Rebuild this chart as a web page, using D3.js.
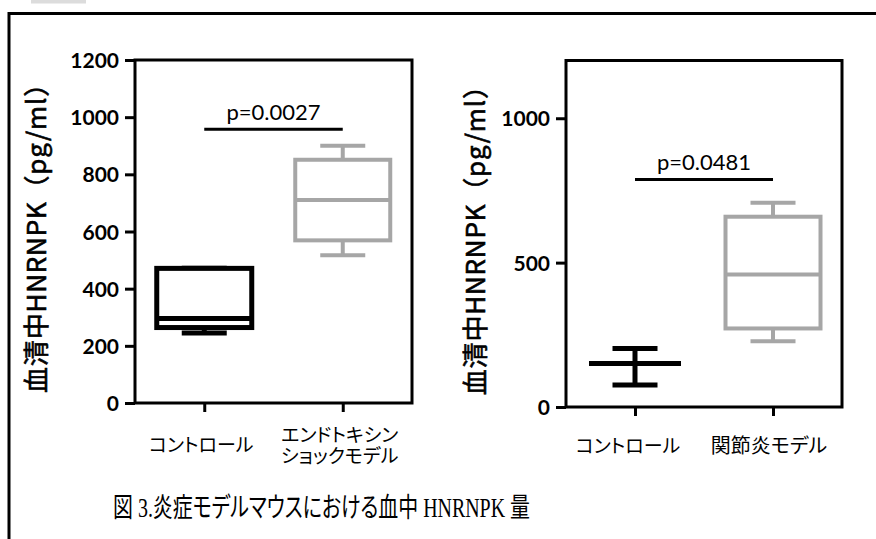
<!DOCTYPE html>
<html>
<head>
<meta charset="utf-8">
<script src="https://cdn.jsdelivr.net/npm/d3@7"></script>
<style>
  html, body { margin: 0; padding: 0; background: #fff; }
  svg { display: block; }
  .kana { font-feature-settings: "palt"; }
</style>
</head>
<body>
<svg id="chart" width="876" height="539"></svg>
<script>
// ---- Left panel: endotoxin shock model (box plots) ----
const leftCategories = ["コントロール", "エンドトキシン\nショックモデル"];
const leftMin    = [245, 517];
const leftQ1     = [264, 569];
const leftMedian = [296, 710];
const leftQ3     = [471, 851];
const leftMax    = [471, 900];
const leftTicks  = [0, 200, 400, 600, 800, 1000, 1200];
const leftPValue = "p=0.0027";
const leftPLevel = 958;

// ---- Right panel: arthritis model ----
const rightCategories = ["コントロール", "関節炎モデル"];
// control group: mean with upper / lower error bar
const rightControlMean  = 151;
const rightControlUpper = 203;
const rightControlLower = 76;
// arthritis group: box plot
const rightMin    = 228;
const rightQ1     = 272;
const rightMedian = 459;
const rightQ3     = 659;
const rightMax    = 707;
const rightTicks  = [0, 500, 1000];
const rightPValue = "p=0.0481";
const rightPLevel = 788;

const yTitle  = "血清中HNRNPK（pg/ml）";
const caption = "図 3.炎症モデルマウスにおける血中 HNRNPK 量";

const svg = d3.select("#chart");
const BLACK = "#000";
const GREY = "#a6a6a6";
const tickFont = "Lato, 'Noto Sans', sans-serif";
const cjkFont = "'Noto Sans CJK JP', 'Noto Sans', sans-serif";

// small grey tab at the top edge
svg.append("rect").attr("x", 31).attr("y", 0).attr("width", 55).attr("height", 3.5)
  .attr("fill", "#dcdcdc");

// outer frame (runs off the right and bottom edges)
svg.append("rect").attr("x", 9).attr("y", 13.5).attr("width", 1000).attr("height", 700)
  .attr("fill", "none").attr("stroke", BLACK).attr("stroke-width", 3);

function panel(opts) {
  const g = svg.append("g");
  const x = d3.scalePoint().domain(opts.categories).range([opts.x0, opts.x1]).padding(0.5);
  const y = d3.scaleLinear().domain([0, 1200]).range([opts.y0, opts.y1]);

  // left axis with ticks
  const yAxis = d3.axisLeft(y).tickValues(opts.ticks).tickSize(10).tickPadding(6)
    .tickFormat(d3.format("d"));
  const ya = g.append("g").attr("transform", `translate(${opts.x0},0)`).call(yAxis);
  ya.select(".domain").remove();
  ya.selectAll(".tick line").attr("stroke", BLACK).attr("stroke-width", 3);
  ya.selectAll(".tick text").attr("font-family", tickFont).attr("font-weight", 700)
    .attr("font-size", 21).attr("fill", BLACK).attr("dy", "0.36em");

  // bottom axis ticks
  const xAxis = d3.axisBottom(x).tickSize(9).tickFormat("");
  const xa = g.append("g").attr("transform", `translate(0,${opts.y0})`).call(xAxis);
  xa.select(".domain").remove();
  xa.selectAll(".tick line").attr("stroke", BLACK).attr("stroke-width", 3);

  // plot frame
  g.append("rect").attr("x", opts.x0).attr("y", opts.y1)
    .attr("width", opts.x1 - opts.x0).attr("height", opts.y0 - opts.y1)
    .attr("fill", "none").attr("stroke", BLACK).attr("stroke-width", 3);

  // y axis title (regular weight with a light outline for a semi-bold look)
  g.append("text")
    .attr("transform", `translate(${opts.titleX},${(opts.y0 + opts.y1) / 2}) rotate(-90)`)
    .attr("text-anchor", "middle").attr("dominant-baseline", "central")
    .attr("font-family", cjkFont).attr("font-size", 26).attr("letter-spacing", 0.8)
    .attr("fill", BLACK).attr("stroke", BLACK).attr("stroke-width", 0.6)
    .text(yTitle);

  // significance bracket
  const xa0 = x(opts.categories[0]), xa1 = x(opts.categories[1]);
  g.append("line").attr("x1", xa0).attr("x2", xa1)
    .attr("y1", y(opts.pLevel)).attr("y2", y(opts.pLevel))
    .attr("stroke", BLACK).attr("stroke-width", 3);
  g.append("text").attr("x", (xa0 + xa1) / 2).attr("y", y(opts.pLevel) - 9)
    .attr("text-anchor", "middle").attr("font-family", tickFont)
    .attr("font-size", 22).attr("fill", BLACK).text(opts.pText);

  return { g, x, y };
}

function boxPlot(g, cx, y, s, color, sw) {
  const bw = 95, cw = 45;
  // whiskers
  g.append("line").attr("x1", cx).attr("x2", cx).attr("y1", y(s.q3)).attr("y2", y(s.max))
    .attr("stroke", color).attr("stroke-width", sw);
  g.append("line").attr("x1", cx).attr("x2", cx).attr("y1", y(s.q1)).attr("y2", y(s.min))
    .attr("stroke", color).attr("stroke-width", sw);
  // caps
  [s.min, s.max].forEach(v => {
    g.append("line").attr("x1", cx - cw / 2).attr("x2", cx + cw / 2)
      .attr("y1", y(v)).attr("y2", y(v)).attr("stroke", color).attr("stroke-width", sw);
  });
  // box
  g.append("rect").attr("x", cx - bw / 2).attr("y", y(s.q3))
    .attr("width", bw).attr("height", y(s.q1) - y(s.q3))
    .attr("fill", "#fff").attr("stroke", color).attr("stroke-width", sw);
  // median
  g.append("line").attr("x1", cx - bw / 2).attr("x2", cx + bw / 2)
    .attr("y1", y(s.median)).attr("y2", y(s.median))
    .attr("stroke", color).attr("stroke-width", sw);
}

// ---- left panel ----
const L = panel({
  categories: leftCategories, x0: 135, x1: 412, y0: 403, y1: 60,
  ticks: leftTicks, titleX: 34, pLevel: leftPLevel, pText: leftPValue
});
leftCategories.forEach((c, i) => {
  boxPlot(L.g, L.x(c), L.y,
    { min: leftMin[i], q1: leftQ1[i], median: leftMedian[i], q3: leftQ3[i], max: leftMax[i] },
    i === 0 ? BLACK : GREY, i === 0 ? 5 : 4);
});
leftCategories.forEach(c => {
  const lines = c.split("\n");
  const base = lines.length === 1 ? 452 : 442;
  lines.forEach((ln, k) => {
    L.g.append("text").attr("class", "kana").attr("text-anchor", "middle")
      .attr("font-family", cjkFont).attr("font-size", 19).attr("fill", BLACK)
      .attr("x", L.x(c) - 3).attr("y", base + k * 21).text(ln);
  });
});

// ---- right panel ----
const R = panel({
  categories: rightCategories, x0: 566, x1: 842, y0: 407, y1: 60.5,
  ticks: rightTicks, titleX: 473, pLevel: rightPLevel, pText: rightPValue
});
{
  const cx = R.x(rightCategories[0]);
  R.g.append("line").attr("x1", cx).attr("x2", cx)
    .attr("y1", R.y(rightControlUpper)).attr("y2", R.y(rightControlLower))
    .attr("stroke", BLACK).attr("stroke-width", 5);
  [rightControlUpper, rightControlLower].forEach(v => {
    R.g.append("line").attr("x1", cx - 22.5).attr("x2", cx + 22.5)
      .attr("y1", R.y(v)).attr("y2", R.y(v)).attr("stroke", BLACK).attr("stroke-width", 5);
  });
  R.g.append("line").attr("x1", cx - 46).attr("x2", cx + 46)
    .attr("y1", R.y(rightControlMean)).attr("y2", R.y(rightControlMean))
    .attr("stroke", BLACK).attr("stroke-width", 5);
}
boxPlot(R.g, R.x(rightCategories[1]), R.y,
  { min: rightMin, q1: rightQ1, median: rightMedian, q3: rightQ3, max: rightMax }, GREY, 4);
rightCategories.forEach((c, i) => {
  R.g.append("text").attr("class", "kana").attr("x", R.x(c) + (i === 0 ? -7 : -4)).attr("y", 453)
    .attr("text-anchor", "middle").attr("font-family", cjkFont)
    .attr("font-size", i === 0 ? 19 : 20).attr("fill", BLACK).text(c);
});

// ---- caption ----
svg.append("text").attr("class", "kana")
  .attr("x", 113).attr("y", 517)
  .attr("textLength", 417).attr("lengthAdjust", "spacingAndGlyphs")
  .attr("font-family", "'Liberation Serif', 'Noto Sans CJK JP', serif")
  .attr("font-size", 27).attr("fill", BLACK).text(caption);
</script>
</body>
</html>
